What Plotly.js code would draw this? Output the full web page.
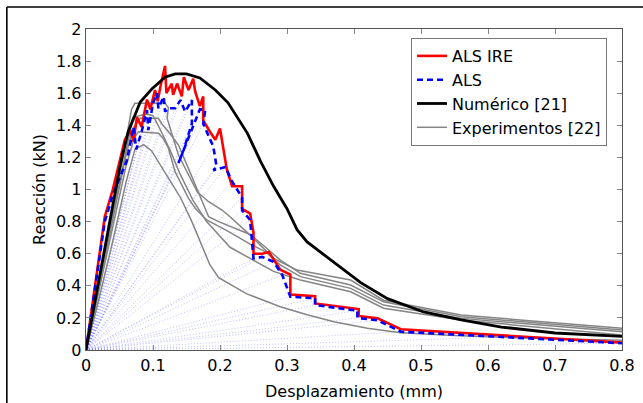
<!DOCTYPE html>
<html>
<head>
<meta charset="utf-8">
<script src="https://cdn.plot.ly/plotly-3.0.1.min.js"></script>
<style>
html,body{margin:0;padding:0;background:#fff;}
#chart{width:643px;height:403px;}
</style>
</head>
<body>
<div id="chart"></div>
<script>
// ---- data ----
const alsIreX = [0,0.013,0.028,0.040,0.058,0.066,0.071,0.076,0.083,0.091,0.096,0.103,0.107,0.112,0.118,0.120,0.128,0.130,0.136,0.143,0.146,0.153,0.160,0.163,0.170,0.175,0.175,0.185,0.193,0.200,0.208,0.210,0.218,0.233,0.233,0.245,0.250,0.250,0.263,0.273,0.290,0.305,0.305,0.342,0.342,0.407,0.407,0.435,0.470,0.620,0.800];
const alsIreY = [0,0.39,0.83,1.00,1.31,1.37,1.30,1.45,1.39,1.56,1.50,1.62,1.55,1.66,1.77,1.60,1.66,1.59,1.66,1.58,1.70,1.62,1.69,1.61,1.52,1.58,1.43,1.36,1.31,1.38,1.20,1.13,1.02,1.02,0.88,0.85,0.73,0.60,0.60,0.61,0.50,0.47,0.345,0.335,0.29,0.255,0.212,0.197,0.129,0.093,0.046];

const alsX = [0,0.013,0.028,0.040,0.061,0.071,0.075,0.083,0.091,0.093,0.100,0.106,0.108,0.116,0.118,0.123,0.133,0.141,0.148,0.158,0.158,0.146,0.138,0.170,0.178,0.175,0.190,0.195,0.190,0.208,0.218,0.233,0.233,0.245,0.250,0.263,0.280,0.293,0.305,0.342,0.342,0.405,0.405,0.435,0.470,0.620,0.800];
const alsY = [0,0.37,0.80,0.97,1.18,1.39,1.25,1.36,1.495,1.37,1.537,1.60,1.506,1.578,1.485,1.506,1.506,1.557,1.485,1.557,1.41,1.25,1.165,1.50,1.495,1.41,1.267,1.14,1.12,1.14,1.05,0.95,0.87,0.81,0.57,0.58,0.55,0.467,0.332,0.322,0.28,0.245,0.20,0.185,0.114,0.08,0.042];

const numX = [0,0.02,0.04,0.051,0.063,0.081,0.099,0.118,0.133,0.150,0.170,0.193,0.212,0.241,0.260,0.280,0.300,0.315,0.330,0.360,0.392,0.410,0.450,0.504,0.560,0.620,0.700,0.800];
const numY = [0,0.45,0.90,1.15,1.36,1.545,1.63,1.70,1.72,1.72,1.695,1.62,1.54,1.35,1.18,1.02,0.88,0.75,0.673,0.58,0.48,0.42,0.32,0.237,0.187,0.143,0.106,0.085];

const exp1X = [0,0.02,0.04,0.06,0.073,0.086,0.098,0.113,0.126,0.141,0.158,0.185,0.198,0.24,0.29,0.33,0.37,0.42,0.47,0.55,0.65,0.8];
const exp1Y = [0,0.33,0.68,1.05,1.25,1.28,1.24,1.14,1.05,0.95,0.80,0.53,0.45,0.35,0.27,0.22,0.176,0.135,0.108,0.09,0.075,0.06];
const exp2X = [0,0.02,0.04,0.06,0.072,0.078,0.108,0.115,0.123,0.133,0.153,0.163,0.180,0.213,0.245,0.268,0.29,0.32,0.395,0.444,0.56,0.8];
const exp2Y = [0,0.38,0.78,1.15,1.32,1.36,1.35,1.32,1.257,1.11,0.945,0.883,0.81,0.737,0.66,0.612,0.53,0.457,0.384,0.28,0.197,0.114];
const exp3X = [0,0.02,0.04,0.06,0.07,0.081,0.108,0.113,0.125,0.138,0.153,0.183,0.198,0.223,0.245,0.268,0.29,0.32,0.395,0.444,0.56,0.8];
const exp3Y = [0,0.40,0.82,1.22,1.38,1.444,1.444,1.41,1.35,1.277,1.13,0.83,0.80,0.76,0.72,0.64,0.56,0.478,0.405,0.30,0.207,0.125];
const exp4X = [0,0.02,0.04,0.055,0.068,0.073,0.118,0.123,0.121,0.138,0.156,0.166,0.183,0.203,0.215,0.245,0.28,0.315,0.395,0.444,0.56,0.8];
const exp4Y = [0,0.42,0.86,1.2,1.50,1.537,1.537,1.51,1.444,1.215,1.07,0.986,0.924,0.872,0.83,0.716,0.571,0.498,0.436,0.31,0.218,0.135];
const exp5X = [0,0.02,0.04,0.06,0.07,0.09,0.10,0.11,0.125,0.14,0.16,0.18,0.215,0.28,0.32,0.395,0.444,0.56,0.8];
const exp5Y = [0,0.40,0.84,1.25,1.45,1.47,1.46,1.38,1.25,1.10,0.93,0.80,0.64,0.49,0.436,0.363,0.26,0.187,0.093];

const xTicks = [0,0.1,0.2,0.3,0.4,0.5,0.6,0.7,0.8];
const yTicks = [0,0.2,0.4,0.6,0.8,1,1.2,1.4,1.6,1.8,2];

// secant (unloading) lines from the origin to each ALS point
const secX = [], secY = [];
for (let i = 1; i < alsX.length; i++) { secX.push(0, alsX[i], null); secY.push(0, alsY[i], null); }

// all experiments in one trace separated by gaps
const expSets = [[exp1X,exp1Y],[exp2X,exp2Y],[exp3X,exp3Y],[exp4X,exp4Y],[exp5X,exp5Y]];
const expX = [], expY = [];
expSets.forEach(([a,b]) => { expX.push(...a, null); expY.push(...b, null); });

const traces = [
  {x: secX, y: secY, mode: 'lines', showlegend: false, hoverinfo: 'skip',
   line: {color: 'rgba(90,90,255,0.55)', width: 0.7, dash: '1px,2px'}},
  {x: expX, y: expY, mode: 'lines', name: 'Experimentos [22]', legendrank: 4,
   line: {color: '#858585', width: 1.5}},
  {x: alsIreX, y: alsIreY, mode: 'lines', name: 'ALS IRE', legendrank: 1,
   line: {color: '#ff0000', width: 2.6}},
  {x: alsX, y: alsY, mode: 'lines', name: 'ALS', legendrank: 2,
   line: {color: '#0000ff', width: 2.6, dash: '6px,4px'}},
  {x: numX, y: numY, mode: 'lines', name: 'Numérico [21]', legendrank: 3,
   line: {color: '#000000', width: 2.8}}
];

const fam = 'DejaVu Sans';
const f16 = {family: fam, size: 16, color: '#000'};

const layout = {
  width: 643, height: 403,
  margin: {l: 86, r: 21, t: 29, b: 53},
  paper_bgcolor: '#fff', plot_bgcolor: '#fff',
  font: f16,
  showlegend: true,
  legend: {x: 0.972, y: 0.972, xanchor: 'right', yanchor: 'top',
           bgcolor: '#fff', bordercolor: '#777', borderwidth: 1,
           font: f16, tracegroupgap: 0, itemwidth: 30},
  xaxis: {range: [0, 0.8], tickvals: xTicks, ticks: 'inside', ticklen: 5, tickcolor: '#888',
          showline: true, linecolor: '#555', linewidth: 1.3, mirror: 'ticks',
          showgrid: false, zeroline: false, tickfont: f16,
          title: {text: 'Desplazamiento (mm)', font: f16, standoff: 12}},
  yaxis: {range: [0, 2], tickvals: yTicks, ticks: 'inside', ticklen: 5, tickcolor: '#888',
          showline: true, linecolor: '#555', linewidth: 1.3, mirror: 'ticks',
          showgrid: false, zeroline: false, tickfont: f16,
          title: {text: 'Reacción (kN)', font: f16, standoff: 6}},
  shapes: [
    {type: 'line', xref: 'paper', yref: 'paper', x0: -0.1477, x1: 1.05, y0: 1.0685, y1: 1.0685,
     line: {color: '#000', width: 1.6}},
    {type: 'line', xref: 'paper', yref: 'paper', x0: -0.1477, x1: -0.1477, y0: 1.0685, y1: -0.2,
     line: {color: '#000', width: 1.6}}
  ]
};

Plotly.newPlot('chart', traces, layout, {staticPlot: true, displayModeBar: false});
</script>
</body>
</html>
